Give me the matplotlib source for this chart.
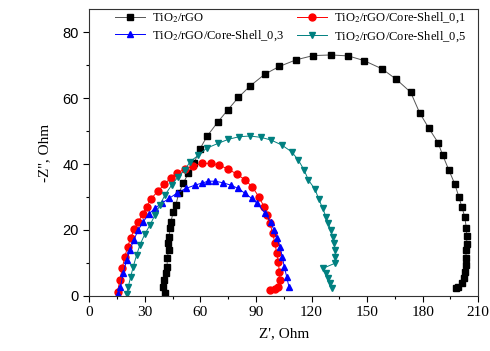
import matplotlib
matplotlib.use('Agg')
import matplotlib.pyplot as plt
from matplotlib.ticker import MultipleLocator

plt.rcParams['mathtext.fontset'] = 'stix'

# TiO2/rGO
x_rgo = [40.7, 40.0, 40.5, 41.4, 42.1, 42.1, 42.9, 42.3, 43.2, 43.6, 44.1, 45.4, 46.8,
         48.3, 50.8, 53.5, 56.5, 59.8, 63.7, 69.5, 74.8, 80.5, 86.9, 94.9, 102.6, 111.6,
         120.8, 130.5, 139.9, 148.3, 158.0, 165.8, 173.5, 178.4, 183.4, 188.3, 190.8,
         194.2, 197.3, 199.5, 201.1, 202.7, 203.6, 203.8, 203.8, 203.6, 203.2, 203.2,
         203.0, 202.3, 201.1, 199.2, 197.8]
y_rgo = [0.8, 2.8, 4.8, 6.9, 8.9, 11.4, 13.9, 16.0, 18.0, 20.5, 22.5, 25.5, 27.6,
         31.1, 34.2, 37.2, 40.2, 44.6, 48.5, 52.8, 56.4, 60.2, 63.7, 67.3, 69.6, 71.6,
         72.9, 73.1, 72.8, 71.4, 68.9, 65.7, 61.8, 55.5, 50.8, 46.5, 42.7,
         38.1, 34.0, 30.1, 27.1, 24.0, 20.5, 18.2, 15.7, 13.9, 11.4, 9.4,
         7.4, 5.4, 3.8, 2.8, 2.5]

# Core-Shell_0,1
x_cs1 = [15.3, 16.6, 17.8, 19.3, 20.7, 22.4, 24.3, 26.5, 28.9, 31.0, 33.3, 37.3, 40.5,
         43.9, 47.5, 51.7, 56.2, 60.7, 65.7, 70.2, 75.1, 79.6, 84.1, 88.0, 91.8, 94.3,
         95.8, 97.6, 99.0, 100.3, 101.2, 102.1, 102.6, 103.0, 102.1, 100.3, 97.6]
y_cs1 = [1.3, 4.8, 8.4, 11.9, 14.9, 17.5, 20.2, 22.5, 24.8, 27.1, 29.4, 31.9, 33.8,
         35.7, 37.4, 38.4, 39.4, 40.2, 40.2, 39.7, 38.4, 37.0, 35.2, 33.1, 29.9, 27.1,
         24.5, 22.0, 19.0, 16.0, 12.9, 10.4, 7.4, 4.8, 2.8, 2.0, 1.8]

# Core-Shell_0,3
x_cs3 = [15.7, 16.9, 18.4, 20.2, 22.0, 24.1, 26.5, 29.2, 32.2, 35.5, 39.1, 43.2, 47.2,
         52.2, 57.1, 60.7, 64.3, 67.9, 72.4, 76.4, 80.5, 84.1, 87.7, 90.7, 94.9, 97.9,
         99.7, 101.2, 103.0, 104.2, 105.3, 106.6, 107.8]
y_cs3 = [0.6, 2.8, 6.9, 10.9, 13.9, 17.0, 20.0, 22.5, 24.8, 26.6, 28.1, 29.6, 31.1,
         32.6, 33.6, 34.2, 34.8, 34.8, 34.3, 33.6, 32.6, 31.1, 29.6, 28.1, 25.1, 22.5,
         20.0, 17.5, 14.9, 11.9, 8.9, 5.8, 2.8]

# Core-Shell_0,5
x_cs5 = [20.2, 21.1, 22.4, 23.8, 25.6, 27.4, 30.1, 32.8, 35.5, 38.2, 40.9, 44.5, 48.1,
         51.7, 54.4, 59.0, 63.4, 69.7, 75.1, 81.0, 86.8, 92.7, 98.1, 103.9, 109.3, 112.9,
         116.0, 118.3, 121.9, 124.0, 126.0, 127.8, 129.1, 130.3, 131.4, 132.1, 132.8,
         132.8, 132.7, 126.3, 127.8, 129.1, 130.0, 130.9]
y_cs5 = [0.6, 2.8, 5.8, 8.9, 12.4, 15.5, 18.8, 21.5, 24.5, 27.6, 30.6, 33.6, 36.2,
         38.2, 40.7, 42.7, 44.8, 46.3, 47.5, 48.3, 48.5, 48.1, 47.3, 45.8, 43.7, 41.2,
         38.2, 35.2, 32.3, 29.3, 26.6, 24.0, 22.0, 20.0, 18.0, 16.0, 13.9,
         11.9, 9.9, 8.4, 6.9, 5.4, 3.8, 2.3]

fig = plt.figure(figsize=(4.9, 3.51), dpi=100)
ax = fig.add_axes([0.182, 0.157, 0.794, 0.817])

ms = 5
l1, = ax.plot(x_rgo, y_rgo, color='#555555', lw=0.7, marker='s', ms=ms,
              mfc='black', mec='black', label='TiO$_2$/rGO')
l2, = ax.plot(x_cs1, y_cs1, color='red', lw=0.7, marker='o', ms=ms,
              label='TiO$_2$/rGO/Core-Shell_0,1')
l3, = ax.plot(x_cs3, y_cs3, color='blue', lw=0.7, marker='^', ms=ms,
              label='TiO$_2$/rGO/Core-Shell_0,3')
l4, = ax.plot(x_cs5, y_cs5, color='#008080', lw=0.7, marker='v', ms=ms,
              label='TiO$_2$/rGO/Core-Shell_0,5')

ax.set_xlim(0, 210)
ax.set_ylim(0, 87)
ax.xaxis.set_major_locator(MultipleLocator(30))
ax.xaxis.set_minor_locator(MultipleLocator(15))
ax.yaxis.set_major_locator(MultipleLocator(20))
ax.yaxis.set_minor_locator(MultipleLocator(10))
ax.tick_params(which='both', direction='out', top=False, right=False)
ax.tick_params(which='major', length=4, width=0.8)
ax.tick_params(which='minor', length=2.5, width=0.8)
for s in ax.spines.values():
    s.set_linewidth(0.8)
    s.set_color('#333333')

for t in ax.get_xticklabels():
    t.set_fontfamily('Liberation Serif')
    t.set_fontsize(11)
for t in ax.get_yticklabels():
    t.set_fontfamily('Liberation Sans')
    t.set_fontsize(10.5)

ax.set_xlabel("Z', Ohm", fontfamily='Liberation Serif', fontsize=11, labelpad=6)
ax.set_ylabel("-Z'', Ohm", fontfamily='Liberation Serif', fontsize=11, labelpad=8)

ax.legend(handles=[l1, l3, l2, l4], ncol=2, frameon=False, loc='upper left',
          bbox_to_anchor=(0.045, 1.025), prop={'family': 'Liberation Serif', 'size': 9},
          handlelength=2.4, columnspacing=1.1, labelspacing=0.3, handletextpad=0.5,
          borderaxespad=0.3)

fig.savefig('out.png', dpi=100)
